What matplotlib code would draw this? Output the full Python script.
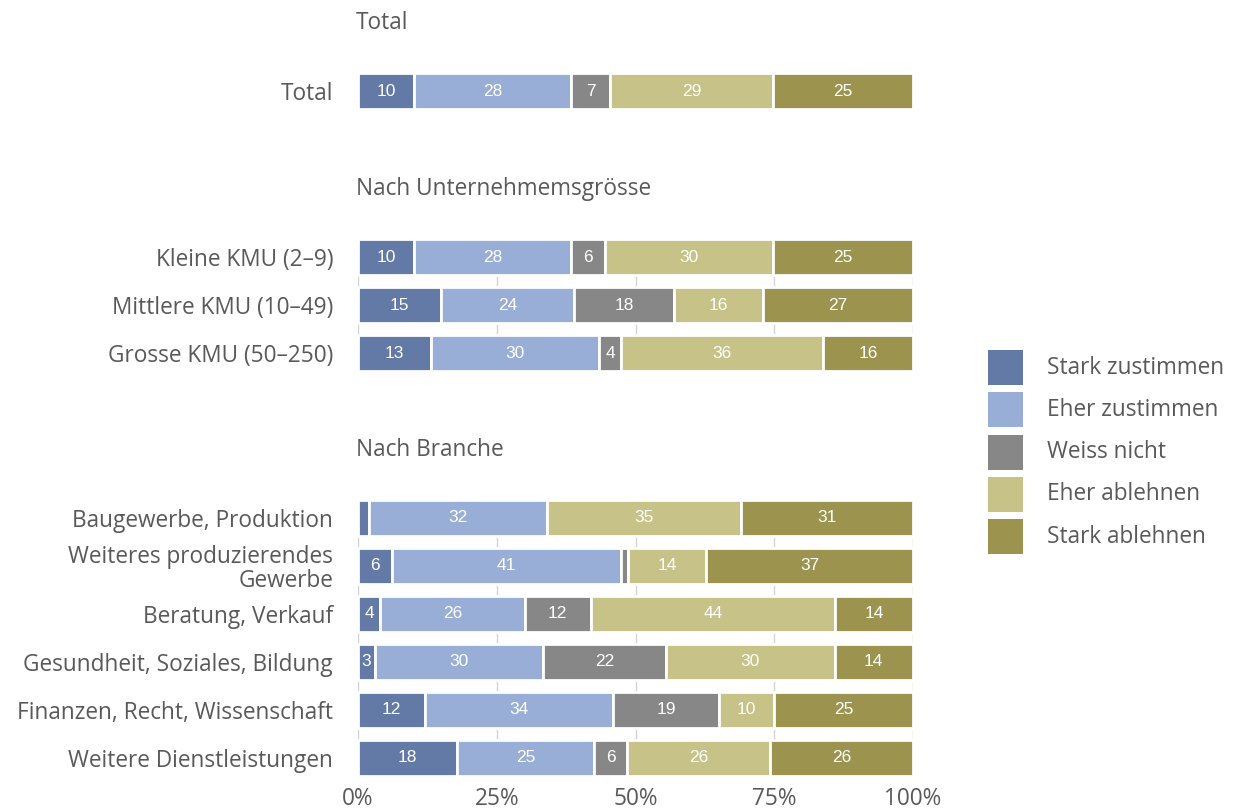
import numpy as np
import matplotlib.pyplot as plt
from matplotlib.patches import Rectangle

plt.rcParams['font.family'] = ['Open Sans', 'DejaVu Sans']

# answer categories and colours
answers = ['Stark zustimmen', 'Eher zustimmen', 'Weiss nicht', 'Eher ablehnen', 'Stark ablehnen']
colors = ['#6379a6', '#98aed6', '#878787', '#c7c287', '#9c944e']

# groups of rows (percent per answer, rounded as labelled)
total_labels = ['Total']
total_vals = [[10, 28, 7, 29, 25]]

size_labels = ['Kleine KMU (2–9)', 'Mittlere KMU (10–49)', 'Grosse KMU (50–250)']
size_vals = [[10, 28, 6, 30, 25],
             [15, 24, 18, 16, 27],
             [13, 30, 4, 36, 16]]

branch_labels = ['Baugewerbe, Produktion', 'Weiteres produzierendes\nGewerbe',
                 'Beratung, Verkauf', 'Gesundheit, Soziales, Bildung',
                 'Finanzen, Recht, Wissenschaft', 'Weitere Dienstleistungen']
branch_vals = [[2, 32, 0, 35, 31],
               [6, 41, 1.3, 14, 37],
               [4, 26, 12, 44, 14],
               [3, 30, 22, 30, 14],
               [12, 34, 19, 10, 25],
               [18, 25, 6, 26, 26]]

group_titles = ['Total', 'Nach Unternehmemsgrösse', 'Nach Branche']
groups = [(total_labels, total_vals), (size_labels, size_vals), (branch_labels, branch_vals)]

W, H = 1233, 810
fig = plt.figure(figsize=(W / 100, H / 100), dpi=100)
txt = '#595959'
fs = 16.3

x0, x1 = 358, 913
tops = [73, 239, 500]
pitch = 48
bar_h = 36

for gi, (labels, vals) in enumerate(groups):
    n = len(labels)
    top = tops[gi]
    bottom = top + (n - 1) * pitch + bar_h
    ax = fig.add_axes([x0 / W, 1 - bottom / H, (x1 - x0) / W, (bottom - top) / H])
    vals = np.array(vals, dtype=float)
    # rounded labels don't always add up to 100, bars fill the whole row
    widths = vals / vals.sum(axis=1, keepdims=True) * 100
    y = np.arange(n)
    left = np.zeros(n)
    for k in range(len(answers)):
        ax.barh(y, widths[:, k], left=left, height=bar_h / pitch, color=colors[k],
                edgecolor='white', linewidth=2, zorder=2)
        for i in range(n):
            if vals[i, k] >= 3:
                ax.text(left[i] + widths[i, k] / 2, y[i], f'{vals[i, k]:.0f}',
                        ha='center', va='center', color='white', fontsize=12.5,
                        family='Liberation Sans', zorder=3)
        left += widths[:, k]
    half = bar_h / pitch / 2
    ax.set_ylim(n - 1 + half, -half)
    ax.set_xlim(0, 100)
    ax.set_yticks(y)
    ax.set_yticklabels(labels, fontsize=fs, color=txt, ha='right', linespacing=1.0)
    ax.tick_params(axis='y', length=0, pad=18)
    ax.set_xticks([0, 25, 50, 75, 100])
    ax.grid(axis='x', color='#d3d3d3', linewidth=1, zorder=0)
    ax.set_axisbelow(True)
    for s in ax.spines.values():
        s.set_visible(False)
    if gi == 2:
        ax.set_xticklabels(['0%', '25%', '50%', '75%', '100%'], fontsize=fs, color=txt)
        ax.tick_params(axis='x', length=0, pad=8)
    else:
        ax.tick_params(axis='x', length=0, labelbottom=False)
    ax.annotate(group_titles[gi], xy=(0, 1), xycoords='axes fraction',
                xytext=(-1.5, 36), textcoords='offset points',
                ha='left', va='center', fontsize=fs, color=txt)

# legend, drawn as squares next to the chart
for k, (name, c) in enumerate(zip(answers, colors)):
    top = 350 + k * 42.3
    fig.add_artist(Rectangle((988 / W, 1 - (top + 35) / H), 35 / W, 35 / H,
                             transform=fig.transFigure, facecolor=c, edgecolor='none'))
    fig.text(1047 / W, 1 - (top + 17.5) / H, name, ha='left', va='center',
             fontsize=fs, color=txt)

fig.savefig('out.png', dpi=100)
